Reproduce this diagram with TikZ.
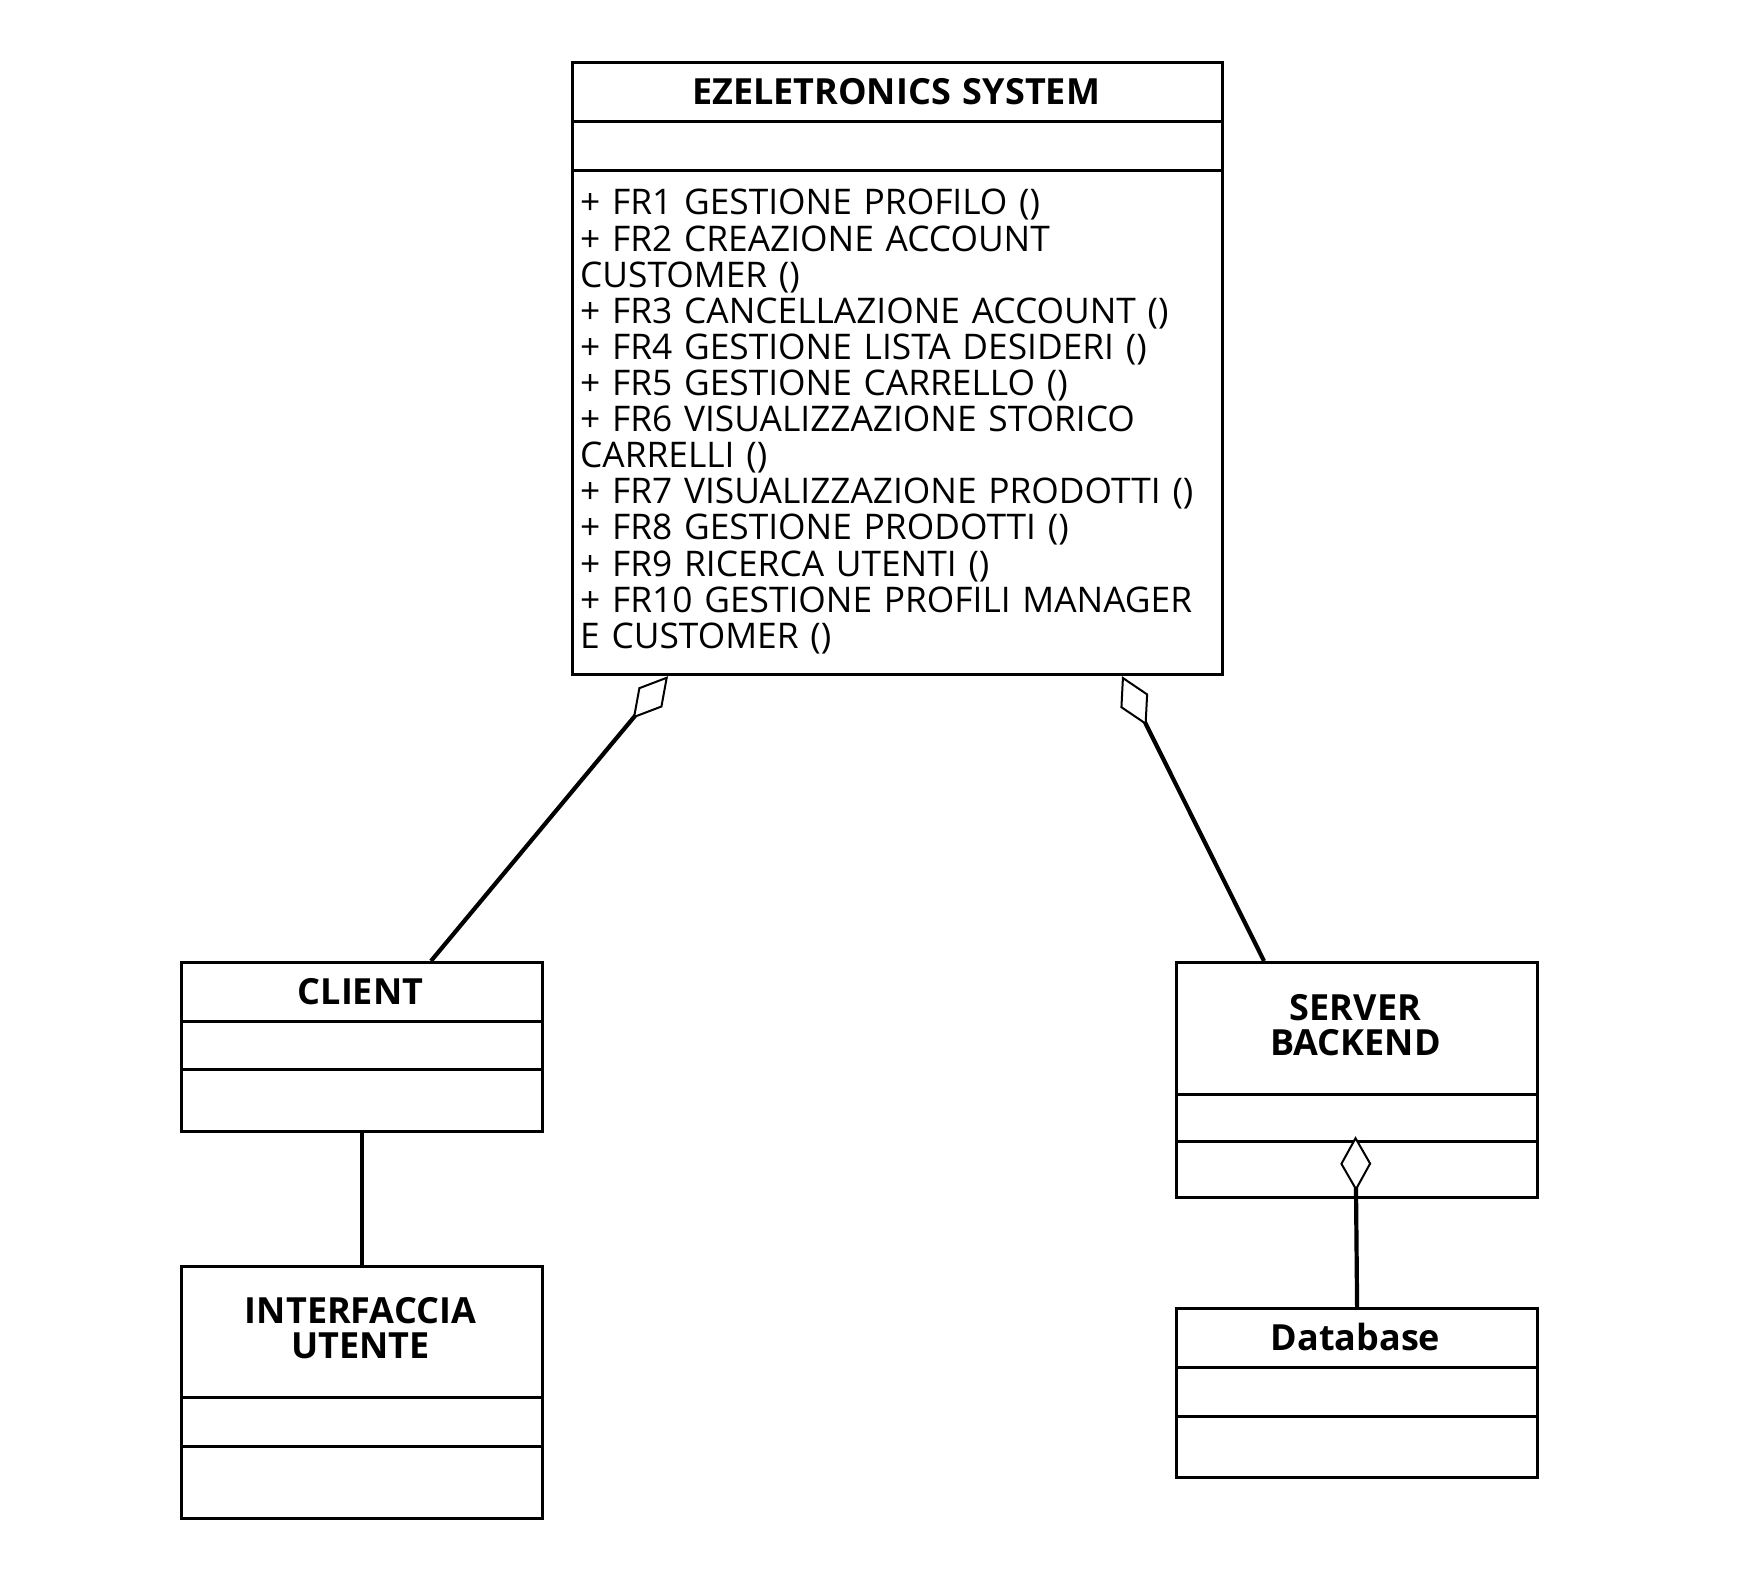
\documentclass[tikz,border=0pt]{standalone}
\usepackage{fontspec}
\setmainfont{Open Sans}
\usetikzlibrary{arrows.meta,calc}
\begin{document}
\begin{tikzpicture}[x=1pt,y=-1pt,
  umlbox/.style={draw, line width=3.2pt, inner sep=0pt, anchor=north west, fill=white},
  sep/.style={line width=3pt},
  conn/.style={line width=4.2pt},
  agg/.style={conn, {Diamond[length=55pt,width=31pt,fill=white,line width=2pt]}-},
  ttl/.style={font={\fontsize{36}{35}\selectfont\bfseries}, inner sep=0pt, anchor=base, text width=340pt, align=center},
  ops/.style={font={\fontsize{35.3}{36.1}\selectfont}, inner sep=0pt, anchor=base west, text width=640pt, align=left}]
\useasboundingbox[fill=white] (0,0) rectangle (1752,1570);

% boxes
\node[umlbox, minimum width=650pt, minimum height=612pt] (main) at (571,61) {};
\node[umlbox, minimum width=361pt, minimum height=169pt] (client) at (180,961) {};
\node[umlbox, minimum width=361pt, minimum height=252pt] (ui) at (180,1265) {};
\node[umlbox, minimum width=361pt, minimum height=235pt] (server) at (1175,961) {};
\node[umlbox, minimum width=361pt, minimum height=169pt] (db) at (1175,1307) {};

% compartment lines
\draw[sep] (571,122) -- (1221,122) (571,171) -- (1221,171);
\draw[sep] (180,1021) -- (541,1021) (180,1069) -- (541,1069);
\draw[sep] (180,1397) -- (541,1397) (180,1446) -- (541,1446);
\draw[sep] (1175,1094) -- (1536,1094) (1175,1141) -- (1536,1141);
\draw[sep] (1175,1367) -- (1536,1367) (1175,1416) -- (1536,1416);

% titles
\node[ttl, text width=640pt] (mainT) at (896,105) {EZELETRONICS SYSTEM};
\node[ttl] (clientT) at (360.5,1004) {CLIENT};
\node[ttl] (uiT) at (360.5,1323) {INTERFACCIA\\UTENTE};
\node[ttl] (serverT) at (1355.5,1020) {SERVER\\BACKEND};
\node[ttl] (dbT) at (1355.5,1350) {Database};

% operations
\node[ops] (mainOps) at (580,215) {+ FR1 GESTIONE PROFILO ()\\
+ FR2 CREAZIONE ACCOUNT\\
CUSTOMER ()\\
+ FR3 CANCELLAZIONE ACCOUNT ()\\
+ FR4 GESTIONE LISTA DESIDERI ()\\
+ FR5 GESTIONE CARRELLO ()\\
+ FR6 VISUALIZZAZIONE STORICO\\
CARRELLI ()\\
+ FR7 VISUALIZZAZIONE PRODOTTI ()\\
+ FR8 GESTIONE PRODOTTI ()\\
+ FR9 RICERCA UTENTI ()\\
+ FR10 GESTIONE PROFILI MANAGER\\
E CUSTOMER ()};

% connectors
\coordinate (aggL) at ($(main.south west)+(97,0)$);
\coordinate (aggR) at ($(main.south west)+(551,0)$);
\coordinate (aggDB) at ($(server.south west)+(180.5,-63)$);
\draw[agg] (aggL) -- ($(client.north west)+(251,0)$);
\draw[agg] (aggR) -- ($(server.north west)+(89,0)$);
\draw[agg] (aggDB) -- (db.north);
\draw[conn] (client.south) -- (ui.north);
\end{tikzpicture}
\end{document}
